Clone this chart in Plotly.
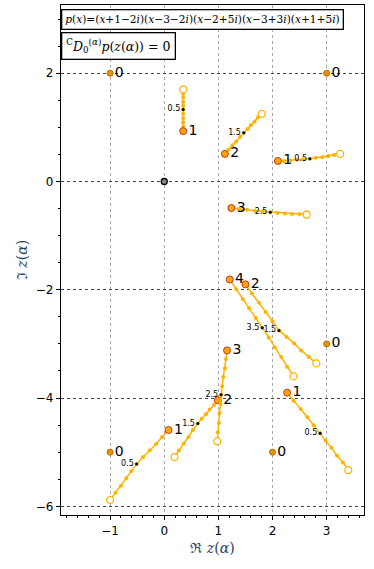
import plotly.graph_objects as go

# ─── Data ────────────────────────────────────────────────────────────────────

# roots of p (alpha = 0)
roots_x = [-1, 3, -1, 2, 3]
roots_y = [2, 2, -5, -5, -3]

# root paths, alpha = n .. n+1 in steps of 0.1 (first point open, last filled)
path_a_x = [0.35, 0.35, 0.35, 0.35, 0.35, 0.35, 0.35, 0.35, 0.35, 0.35, 0.35]
path_a_y = [1.70, 1.62, 1.55, 1.47, 1.40, 1.33, 1.25, 1.17, 1.09, 1.01, 0.93]
path_b_x = [3.25, 3.14, 3.03, 2.92, 2.80, 2.69, 2.57, 2.45, 2.33, 2.21, 2.10]
path_b_y = [0.51, 0.49, 0.47, 0.45, 0.44, 0.42, 0.41, 0.40, 0.39, 0.38, 0.38]
path_c_x = [-1.00, -0.90, -0.80, -0.70, -0.61, -0.51, -0.39, -0.27, -0.15, -0.04, 0.08]
path_c_y = [-5.88, -5.75, -5.62, -5.48, -5.35, -5.22, -5.09, -4.97, -4.85, -4.72, -4.59]
path_d_x = [3.40, 3.30, 3.19, 3.09, 2.98, 2.88, 2.76, 2.64, 2.52, 2.39, 2.27]
path_d_y = [-5.33, -5.19, -5.06, -4.92, -4.79, -4.65, -4.50, -4.35, -4.20, -4.05, -3.90]
path_e_x = [1.80, 1.73, 1.67, 1.60, 1.54, 1.47, 1.40, 1.33, 1.26, 1.19, 1.12]
path_e_y = [1.25, 1.18, 1.11, 1.04, 0.97, 0.90, 0.82, 0.74, 0.67, 0.59, 0.51]
path_f_x = [2.81, 2.67, 2.53, 2.40, 2.26, 2.12, 2.00, 1.87, 1.75, 1.62, 1.50]
path_f_y = [-3.36, -3.24, -3.12, -2.99, -2.87, -2.75, -2.58, -2.41, -2.24, -2.07, -1.90]
path_g_x = [0.19, 0.27, 0.36, 0.45, 0.53, 0.62, 0.69, 0.77, 0.84, 0.92, 0.99]
path_g_y = [-5.09, -4.97, -4.84, -4.72, -4.59, -4.47, -4.38, -4.30, -4.21, -4.13, -4.04]
path_h_x = [2.63, 2.50, 2.36, 2.23, 2.09, 1.96, 1.82, 1.67, 1.53, 1.38, 1.24]
path_h_y = [-0.61, -0.60, -0.60, -0.59, -0.58, -0.57, -0.55, -0.54, -0.52, -0.51, -0.49]
path_i_x = [0.98, 0.99, 1.01, 1.02, 1.04, 1.05, 1.07, 1.09, 1.12, 1.14, 1.16]
path_i_y = [-4.80, -4.63, -4.46, -4.28, -4.11, -3.94, -3.78, -3.61, -3.45, -3.28, -3.12]
path_j_x = [2.39, 2.27, 2.16, 2.04, 1.93, 1.81, 1.69, 1.57, 1.45, 1.33, 1.21]
path_j_y = [-3.60, -3.42, -3.24, -3.06, -2.88, -2.70, -2.52, -2.34, -2.17, -1.99, -1.81]

path_start_alpha = [0, 0, 0, 0, 1, 1, 1, 2, 2, 3]

paths = [
    (path_a_x, path_a_y), (path_b_x, path_b_y), (path_c_x, path_c_y),
    (path_d_x, path_d_y), (path_e_x, path_e_y), (path_f_x, path_f_y),
    (path_g_x, path_g_y), (path_h_x, path_h_y), (path_i_x, path_i_y),
    (path_j_x, path_j_y),
]

LINE = "#ffb300"
ORANGE = "#ffa500"
TICKFONT = dict(family="DejaVu Sans", size=12, color="black")
MATHFONT = "DejaVu Serif"
LABELFONT = dict(family="DejaVu Sans", size=14, color="black")

# ─── Figure ──────────────────────────────────────────────────────────────────

fig = go.Figure()

for (px_, py_), a0 in zip(paths, path_start_alpha):
    fig.add_trace(go.Scatter(
        x=px_, y=py_, mode="lines+markers",
        line=dict(color=LINE, width=1.5),
        marker=dict(color=LINE, size=4),
        hoverinfo="skip",
    ))
    # start (open) marker
    fig.add_trace(go.Scatter(
        x=[px_[0]], y=[py_[0]], mode="markers",
        marker=dict(color="white", size=7, line=dict(color=LINE, width=1.3)),
    ))
    # half-way marker + label
    fig.add_trace(go.Scatter(
        x=[px_[5]], y=[py_[5]], mode="markers+text",
        marker=dict(color="black", size=3),
        text=[f"{a0 + 0.5:g}"], textposition="middle left",
        textfont=dict(family="DejaVu Sans", size=8, color="black"),
    ))
    # end (filled) marker + label
    fig.add_trace(go.Scatter(
        x=[px_[-1]], y=[py_[-1]], mode="markers+text",
        marker=dict(color=ORANGE, size=7, line=dict(color="#c0392b", width=1)),
        text=[f"{a0 + 1}"], textposition="middle right",
        textfont=LABELFONT,
    ))

fig.add_trace(go.Scatter(
    x=roots_x, y=roots_y, mode="markers+text",
    marker=dict(color="#e69500", size=6, line=dict(color="#c06a00", width=1)),
    text=["0"] * len(roots_x), textposition="middle right",
    textfont=LABELFONT,
))

fig.add_trace(go.Scatter(
    x=[0], y=[0], mode="markers",
    marker=dict(color="#888888", size=6, line=dict(color="black", width=1.3)),
))

fig.add_annotation(
    xref="paper", yref="paper", x=0.0, y=0.992, xanchor="left", yanchor="top",
    text="<i>p</i>(<i>x</i>)=(<i>x</i>+1−2<i>i</i>)(<i>x</i>−3−2<i>i</i>)(<i>x</i>−2+5<i>i</i>)"
         "(<i>x</i>−3+3<i>i</i>)(<i>x</i>+1+5<i>i</i>)",
    showarrow=False, bgcolor="white", bordercolor="black", borderwidth=1.3,
    borderpad=3, font=dict(family=MATHFONT, size=10.6, color="black"),
)
fig.add_annotation(
    xref="paper", yref="paper", x=0.0, y=0.948, xanchor="left", yanchor="top",
    text="<sup>C</sup><i>D</i><sub>0</sub><sup>(<i>α</i>)</sup><i>p</i>(<i>z</i>(<i>α</i>)) = 0",
    showarrow=False, bgcolor="white", bordercolor="black", borderwidth=1.3,
    borderpad=4, font=dict(family=MATHFONT, size=12.5, color="black"),
)

fig.update_layout(
    width=374, height=569,
    margin=dict(l=61, r=10, t=5, b=54),
    paper_bgcolor="white", plot_bgcolor="white",
    showlegend=False,
    xaxis=dict(
        range=[-1.907, 3.69], tickvals=[-1, 0, 1, 2, 3],
        ticktext=["−1", "0", "1", "2", "3"], automargin=False,
        ticks="outside", ticklen=4, tickcolor="black", tickfont=TICKFONT,
        minor=dict(dtick=0.2, ticks="outside", ticklen=2, tickcolor="black", showgrid=False),
        showgrid=True, gridcolor="#aaaaaa", griddash="dot", gridwidth=1,
        showline=True, linecolor="black", linewidth=1.3, mirror=True, zeroline=False,
        title=dict(text="ℜ <i>z</i>(<i>α</i>)", font=dict(family=MATHFONT, size=14), standoff=6),
    ),
    yaxis=dict(
        range=[-6.16, 3.26], tickvals=[-6, -4, -2, 0, 2],
        ticktext=["−6", "−4", "−2", "0", "2"], automargin=False,
        ticks="outside", ticklen=4, tickcolor="black", tickfont=TICKFONT,
        minor=dict(dtick=0.5, ticks="outside", ticklen=2, tickcolor="black", showgrid=False),
        showgrid=True, gridcolor="#444444", griddash="dot", gridwidth=1,
        showline=True, linecolor="black", linewidth=1.3, mirror=True, zeroline=False,
        title=dict(text="ℑ <i>z</i>(<i>α</i>)", font=dict(family=MATHFONT, size=14), standoff=4),
    ),
)

# drop the default page margin so the figure sits at the window corner
fig.write_html("out.html", config={"displayModeBar": False},
               post_script="document.body.style.margin='0';")
